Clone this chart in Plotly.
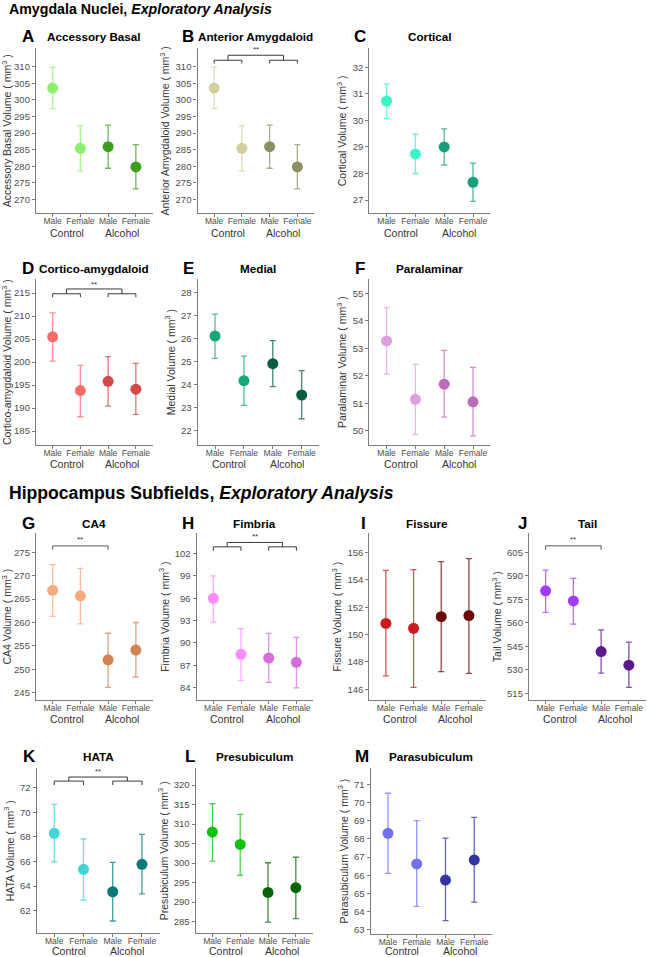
import plotly.graph_objects as go

W, H = 647, 957

# ---------------- data ----------------
sexes = ["Male", "Female", "Male", "Female"]
groups = ["Control", "Control", "Alcohol", "Alcohol"]

letters = ["A", "B", "C", "D", "E", "F", "G", "H", "I", "J", "K", "L", "M"]
titles = ["Accessory Basal", "Anterior Amygdaloid", "Cortical", "Cortico-amygdaloid",
          "Medial", "Paralaminar", "CA4", "Fimbria", "Fissure", "Tail", "HATA",
          "Presubiculum", "Parasubiculum"]
ylabels = ["Accessory Basal", "Anterior Amygdaloid", "Cortical", "Cortico-amygdaloid",
           "Medial", "Paralaminar", "CA4", "Fimbria", "Fissure", "Tail", "HATA",
           "Presubiculum", "Parasubiculum"]

mean_A = [303.6, 285.4, 285.9, 279.8]
low_A = [297.4, 278.6, 279.4, 273.2]
high_A = [309.9, 292.2, 292.4, 286.5]

mean_B = [303.6, 285.4, 285.9, 279.8]
low_B = [297.4, 278.6, 279.4, 273.2]
high_B = [309.9, 292.2, 292.4, 286.5]

mean_C = [30.73, 28.74, 29.00, 27.67]
low_C = [30.08, 28.00, 28.32, 26.95]
high_C = [31.37, 29.48, 29.68, 28.39]

mean_D = [205.5, 193.8, 195.8, 194.1]
low_D = [200.2, 188.1, 190.4, 188.6]
high_D = [210.7, 199.3, 201.2, 199.7]

mean_E = [26.12, 24.18, 24.92, 23.56]
low_E = [25.15, 23.11, 23.92, 22.53]
high_E = [27.07, 25.25, 25.92, 24.62]

mean_F = [53.27, 51.15, 51.70, 51.06]
low_F = [52.07, 49.87, 50.50, 49.82]
high_F = [54.48, 52.42, 52.93, 52.31]

mean_G = [266.9, 265.7, 252.0, 254.1]
low_G = [261.3, 259.7, 246.1, 248.3]
high_G = [272.4, 271.6, 257.7, 260.0]

mean_H = [96.0, 88.48, 87.98, 87.40]
low_H = [92.8, 84.98, 84.72, 83.96]
high_H = [99.0, 91.93, 91.30, 90.76]

mean_I = [150.82, 150.46, 151.31, 151.39]
low_I = [146.98, 146.15, 147.29, 147.17]
high_I = [154.70, 154.75, 155.34, 155.56]

mean_J = [580.4, 573.9, 541.6, 532.9]
low_J = [566.6, 559.1, 527.8, 518.8]
high_J = [593.6, 588.3, 555.4, 547.6]

mean_K = [68.29, 65.36, 63.54, 65.77]
low_K = [65.98, 62.87, 61.16, 63.36]
high_K = [70.64, 67.83, 65.93, 68.21]

mean_L = [307.96, 304.8, 292.5, 293.7]
low_L = [300.5, 296.9, 284.9, 285.8]
high_L = [315.2, 312.5, 300.1, 301.5]

mean_M = [68.31, 66.63, 65.74, 66.85]
low_M = [66.11, 64.30, 63.51, 64.53]
high_M = [70.51, 69.01, 68.04, 69.19]

# y-axis tick labels per panel: first, step, last
tick_start = [270, 270, 27, 185, 22, 50, 245, 84, 146, 515, 62, 285, 63]
tick_step = [5, 5, 1, 5, 1, 1, 5, 3, 2, 15, 2, 5, 1]
tick_end = [310, 310, 32, 215, 28, 55, 275, 102, 156, 605, 72, 320, 71]

# significance annotations (levels in data units)
paired_sig = {  # panel: (leg, bar, connector top, star)
    "B": (311.0, 312.0, 313.5, 315.3),
    "D": (214.1, 214.85, 215.9, 216.8),
    "H": (102.38, 102.91, 103.5, 104.26),
    "K": (72.22, 72.54, 72.87, 73.36),
}
single_sig = {  # panel: (leg, bar, star)
    "G": (275.6, 276.4, 277.7),
    "J": (606.5, 609.1, 613.0),
}

# ---------------- styling / layout ----------------
colors = {
    "A": ("#8FEF6C", "#3C9E1C"),
    "B": ("#D3CF9C", "#8F8F66"),
    "C": ("#3CF4C6", "#1A9E7C"),
    "D": ("#F96B6B", "#D44848"),
    "E": ("#17A67A", "#0D5C3D"),
    "F": ("#DDA0DD", "#BA6CBA"),
    "G": ("#F6AA7D", "#D2834F"),
    "H": ("#FF8CFF", "#D370D8"),
    "I": ("#CC1A1F", "#6B0A0A"),
    "J": ("#A23BFF", "#5B1A8C"),
    "K": ("#44D6D6", "#087878"),
    "L": ("#12C212", "#086408"),
    "M": ("#7070F0", "#3333A3"),
}

# panel boxes in px: left, right, top, bottom; y-range; group-label y (px)
boxes = {
    "A": (36, 152.5, 48.3, 213.3, (265.8, 315.6), 232.7),
    "B": (197.5, 314, 48.3, 213.3, (265.8, 315.6), 232.7),
    "C": (369.3, 490.3, 48.3, 213.3, (26.5, 32.72), 232.7),
    "D": (36, 152.5, 279.3, 445, (181.96, 218.0), 464.2),
    "E": (197.7, 319, 279.3, 445, (21.39, 28.58), 464.2),
    "F": (369.3, 490.3, 279.3, 445, (49.49, 55.51), 464.2),
    "G": (36, 152.5, 533.3, 700, (243.4, 279.1), 719.2),
    "H": (196.7, 313, 533.3, 700, (82.34, 104.73), 719.2),
    "I": (369.3, 485.5, 533.3, 700, (145.22, 157.41), 719.2),
    "J": (529, 645.5, 533.3, 700, (510.7, 617.1), 719.2),
    "K": (36.7, 159.5, 768.3, 933.3, (60.16, 73.58), 951.3),
    "L": (195.7, 312.5, 768.3, 933.3, (282.03, 324.28), 951.3),
    "M": (370.7, 491.5, 768.3, 934.0, (62.78, 71.88), 951.3),
}
letter_x = {"A": 28, "B": 188, "C": 360, "D": 28, "E": 188, "F": 360,
            "G": 28, "H": 188, "I": 364, "J": 522, "K": 29, "L": 190, "M": 362}
row_title_y = {"A": 37, "B": 37, "C": 37, "D": 268, "E": 268, "F": 268,
               "G": 523, "H": 523, "I": 523, "J": 523, "K": 756, "L": 756, "M": 756}

means = {"A": mean_A, "B": mean_B, "C": mean_C, "D": mean_D, "E": mean_E, "F": mean_F,
         "G": mean_G, "H": mean_H, "I": mean_I, "J": mean_J, "K": mean_K, "L": mean_L, "M": mean_M}
lows = {"A": low_A, "B": low_B, "C": low_C, "D": low_D, "E": low_E, "F": low_F,
        "G": low_G, "H": low_H, "I": low_I, "J": low_J, "K": low_K, "L": low_L, "M": low_M}
highs = {"A": high_A, "B": high_B, "C": high_C, "D": high_D, "E": high_E, "F": high_F,
         "G": high_G, "H": high_H, "I": high_I, "J": high_J, "K": high_K, "L": high_L, "M": high_M}

FONT = "Liberation Sans, Arial, sans-serif"
AXC = "#7d7d7d"
TXT = "#4d4d4d"


def rgba(hexc, a):
    h = hexc.lstrip("#")
    r, g, b = int(h[0:2], 16), int(h[2:4], 16), int(h[4:6], 16)
    return f"rgba({r},{g},{b},{a})"


def ticks_for(i):
    vals = []
    v = tick_start[i]
    while v <= tick_end[i] + 1e-9:
        vals.append(v)
        v += tick_step[i]
    return vals


pos = [i + 1 for i in range(len(sexes))]
fig = go.Figure()
annotations = []
layout_axes = {}

for n, L in enumerate(letters, start=1):
    xs = "x" if n == 1 else f"x{n}"
    ys = "y" if n == 1 else f"y{n}"
    xa = "xaxis" if n == 1 else f"xaxis{n}"
    ya = "yaxis" if n == 1 else f"yaxis{n}"
    left, right, top, bottom, yr, gy = boxes[L]
    m, lo, hi = means[L], lows[L], highs[L]
    cc, ac = colors[L]
    for idx, col in (([0, 1], cc), ([2, 3], ac)):
        fig.add_trace(go.Scatter(
            x=[pos[j] for j in idx], y=[m[j] for j in idx], mode="markers",
            marker=dict(size=11, color=col, line=dict(width=0)),
            error_y=dict(type="data", symmetric=False,
                         array=[hi[j] - m[j] for j in idx],
                         arrayminus=[m[j] - lo[j] for j in idx],
                         color=rgba(col, 0.75), thickness=1.3, width=3),
            xaxis=xs, yaxis=ys, showlegend=False, hoverinfo="skip"))

    # significance brackets
    if L in paired_sig:
        leg, bar, topl, star = paired_sig[L]
        c1 = (pos[0] + pos[1]) / 2
        c2 = (pos[2] + pos[3]) / 2
        bx = [pos[0], pos[0], pos[1], pos[1], None, pos[2], pos[2], pos[3], pos[3], None,
              c1, c1, c2, c2]
        by = [leg, bar, bar, leg, None, leg, bar, bar, leg, None, bar, topl, topl, bar]
        fig.add_trace(go.Scatter(x=bx, y=by, mode="lines", line=dict(color="#3a3a3a", width=1),
                                 xaxis=xs, yaxis=ys, showlegend=False, hoverinfo="skip"))
        annotations.append(dict(x=(c1 + c2) / 2, y=star, xref=xs, yref=ys, text="**",
                                showarrow=False, font=dict(size=8, color="#333", family=FONT)))
    if L in single_sig:
        leg, bar, star = single_sig[L]
        bx = [pos[0], pos[0], pos[2], pos[2]]
        by = [leg, bar, bar, leg]
        fig.add_trace(go.Scatter(x=bx, y=by, mode="lines", line=dict(color="#5a5a5a", width=1),
                                 xaxis=xs, yaxis=ys, showlegend=False, hoverinfo="skip"))
        annotations.append(dict(x=(pos[0] + pos[2]) / 2, y=star, xref=xs, yref=ys, text="**",
                                showarrow=False, font=dict(size=8, color="#333", family=FONT)))

    layout_axes[xa] = dict(
        domain=[left / W, right / W], anchor=ys, range=[0.4, 4.6],
        tickmode="array", tickvals=pos, ticktext=sexes,
        tickfont=dict(size=8.5, color=TXT, family=FONT), ticklabelstandoff=-3,
        showline=True, linecolor=AXC, linewidth=1.3, ticks="outside", ticklen=2.5,
        tickcolor=AXC, tickwidth=1, showgrid=False, zeroline=False, fixedrange=True)
    layout_axes[ya] = dict(
        domain=[1 - bottom / H, 1 - top / H], anchor=xs, range=list(yr),
        tickmode="array", tickvals=ticks_for(n - 1),
        tickfont=dict(size=9.5, color=TXT, family=FONT),
        title=dict(text=f"{ylabels[n - 1]} Volume ( mm<sup>3</sup> )",
                   font=dict(size=10.5, color="#333", family=FONT), standoff=3),
        showline=True, linecolor=AXC, linewidth=1.3, ticks="outside", ticklen=3,
        tickcolor=AXC, tickwidth=1, showgrid=False, zeroline=False, fixedrange=True)

    # group labels under the axis
    for gi, gname in ((0, groups[0]), (2, groups[2])):
        annotations.append(dict(x=(pos[gi] + pos[gi + 1]) / 2, xref=xs,
                                y=1 - gy / H, yref="paper", yanchor="middle",
                                text=gname, showarrow=False,
                                font=dict(size=10.5, color="#333", family=FONT)))
    # panel letter & title
    ty = row_title_y[L]
    annotations.append(dict(x=letter_x[L] / W, y=1 - ty / H, xref="paper", yref="paper",
                            xanchor="center", yanchor="middle", text=f"<b>{L}</b>",
                            showarrow=False, font=dict(size=17, color="black", family=FONT)))
    annotations.append(dict(x=(left + right) / 2 / W, y=1 - ty / H, xref="paper", yref="paper",
                            xanchor="center", yanchor="middle", text=f"<b>{titles[n - 1]}</b>",
                            showarrow=False, font=dict(size=11.7, color="black", family=FONT)))

annotations.append(dict(x=7 / W, y=1 - 9 / H, xref="paper", yref="paper", xanchor="left",
                        yanchor="middle", showarrow=False,
                        text="<b>Amygdala Nuclei, <i>Exploratory Analysis</i></b>",
                        font=dict(size=14.2, color="black", family=FONT)))
annotations.append(dict(x=7 / W, y=1 - 493 / H, xref="paper", yref="paper", xanchor="left",
                        yanchor="middle", showarrow=False,
                        text="<b>Hippocampus Subfields, <i>Exploratory Analysis</i></b>",
                        font=dict(size=17.6, color="black", family=FONT)))

fig.update_layout(width=W, height=H, margin=dict(l=0, r=0, t=0, b=0),
                  paper_bgcolor="white", plot_bgcolor="white",
                  font=dict(family=FONT), annotations=annotations, **layout_axes)

fig.write_html("out.html", config={"displayModeBar": False},
               post_script="document.body.style.margin='0px';")
